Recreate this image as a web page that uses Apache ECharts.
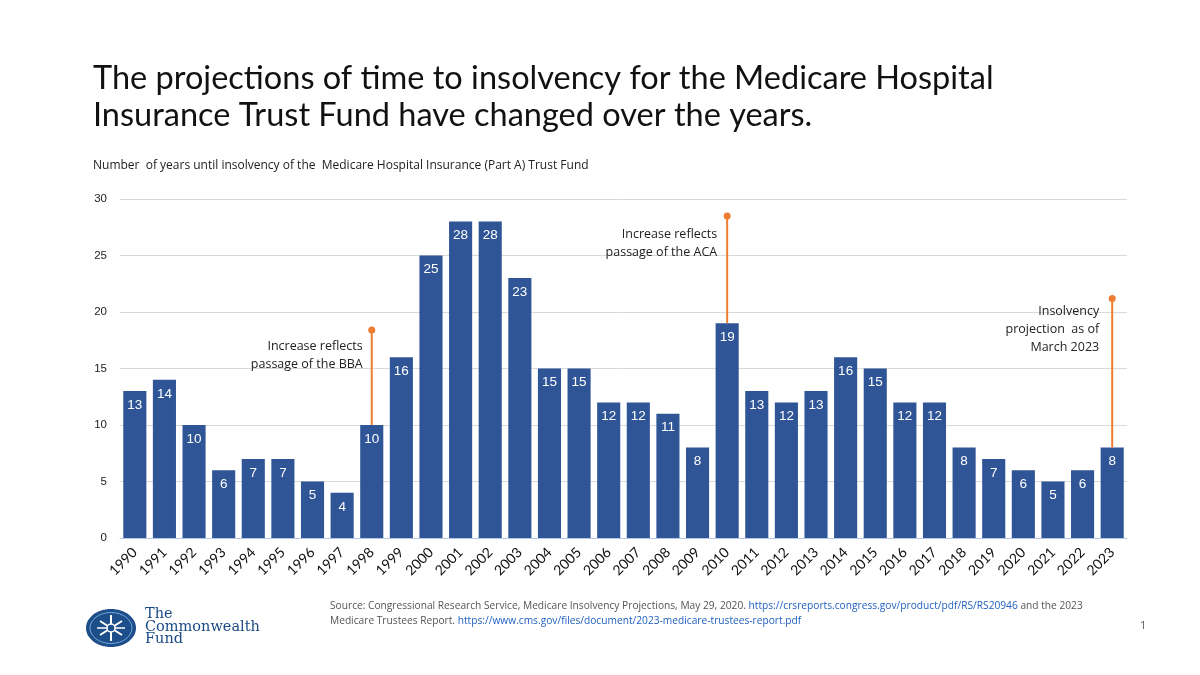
<!DOCTYPE html>
<html>
<head>
<meta charset="utf-8">
<script src="https://cdn.jsdelivr.net/npm/echarts@6/dist/echarts.min.js"></script>
<style>html,body{margin:0;padding:0;background:#fff;}#c{width:1200px;height:675px;}</style>
</head>
<body>
<div id="c"></div>
<script>
const years = ['1990','1991','1992','1993','1994','1995','1996','1997','1998','1999','2000','2001','2002','2003','2004','2005','2006','2007','2008','2009','2010','2011','2012','2013','2014','2015','2016','2017','2018','2019','2020','2021','2022','2023'];
const yearsToInsolvency = [13,14,10,6,7,7,5,4,10,16,25,28,28,23,15,15,12,12,11,8,19,13,12,13,16,15,12,12,8,7,6,5,6,8];
const yTicks = [0,5,10,15,20,25,30];
const annotationYears = ['1998','2010','2023'];
const annotationTops = [18.4, 28.5, 21.2];
const annotationTexts = ['Increase reflects\npassage of the BBA','Increase reflects\npassage of the ACA','Insolvency\nprojection  as of\nMarch 2023'];

const annData = annotationYears.map((y, i) => {
  const idx = years.indexOf(y);
  return [idx, yearsToInsolvency[idx], annotationTops[i], i];
});

const chart = echarts.init(document.getElementById('c'), null, {renderer: 'canvas'});
const textFont = '"Open Sans", "Liberation Sans", sans-serif';
chart.setOption({
  backgroundColor: '#ffffff',
  animation: false,
  title: [{
    text: 'The projections of time to insolvency for the Medicare Hospital\nInsurance Trust Fund have changed over the years.',
    left: 88, top: 55,
    textStyle: {fontFamily: 'Lato, sans-serif', fontSize: 32.5, fontWeight: 'normal', color: '#111', lineHeight: 37}
  }, {
    text: 'Number  of years until insolvency of the  Medicare Hospital Insurance (Part A) Trust Fund',
    left: 88, top: 155,
    textStyle: {fontFamily: textFont, fontSize: 12, fontWeight: 'normal', color: '#222'}
  }],
  grid: {left: 120, right: 73, top: 199, bottom: 137, containLabel: false},
  xAxis: {
    type: 'category', data: years,
    axisLine: {lineStyle: {color: '#b4c7e7', width: 1}},
    axisTick: {show: false},
    axisLabel: {rotate: 45, color: '#111', fontSize: 14, fontFamily: 'Lato, sans-serif', margin: 12, interval: 0}
  },
  yAxis: {
    type: 'value', min: yTicks[0], max: yTicks[yTicks.length - 1], interval: 5,
    axisLine: {show: false}, axisTick: {show: false},
    axisLabel: {color: '#222', fontSize: 11.5, fontFamily: 'Liberation Sans, Arial, sans-serif', margin: 13},
    splitLine: {lineStyle: {color: '#d9d9d9', width: 1}}
  },
  series: [{
    type: 'bar', data: yearsToInsolvency,
    barCategoryGap: '22%',
    itemStyle: {color: '#2f5597'},
    label: {show: true, position: 'insideTop', distance: 7, color: '#fff', fontSize: 13.5, fontFamily: 'Liberation Sans, Arial, sans-serif'},
    z: 2
  }, {
    type: 'custom', data: annData, z: 5, silent: true,
    renderItem: function (params, api) {
      const base = api.coord([api.value(0), api.value(1)]);
      const top = api.coord([api.value(0), api.value(2)]);
      const i = api.value(3);
      const offsets = [7, 9, 4];
      const gaps = [9, 10, 13];
      return {
        type: 'group',
        children: [{
          type: 'line',
          shape: {x1: base[0], y1: base[1], x2: top[0], y2: top[1]},
          style: {stroke: '#ed7d31', lineWidth: 2}
        }, {
          type: 'circle',
          shape: {cx: top[0], cy: top[1], r: 3.5},
          style: {fill: '#ed7d31'}
        }, {
          type: 'text',
          style: {
            x: top[0] - gaps[i], y: top[1] + offsets[i],
            text: annotationTexts[i], align: 'right', verticalAlign: 'top',
            fontSize: 12.5, lineHeight: 18, fontFamily: textFont, fill: '#222'
          }
        }]
      };
    }
  }],
  graphic: [
    {
      type: 'text', left: 330, top: 601,
      style: {
        rich: {
          t: {fontSize: 10.2, fontFamily: textFont, fill: '#555', lineHeight: 15},
          l: {fontSize: 10.2, fontFamily: textFont, fill: '#1f5fbf', lineHeight: 15}
        },
        text: '{t|Source: Congressional Research Service, Medicare Insolvency Projections, May 29, 2020. }{l|https://crsreports.congress.gov/product/pdf/RS/RS20946}{t| and the 2023}\n{t|Medicare Trustees Report. }{l|https://www.cms.gov/files/document/2023-medicare-trustees-report.pdf}'
      }
    },
    {type: 'text', left: 1140, top: 620, style: {text: '1', fontSize: 11, fontFamily: textFont, fill: '#555'}},
    {
      type: 'group', left: 86, top: 607,
      children: [
        {type: 'ellipse', shape: {cx: 25, cy: 21, rx: 25, ry: 19}, style: {fill: '#1d4e89'}},
        {type: 'ellipse', shape: {cx: 25, cy: 21, rx: 21, ry: 15.5}, style: {fill: 'none', stroke: '#6fa8dc', lineWidth: 1}},
        {type: 'line', shape: {x1: 25, y1: 8, x2: 25, y2: 34}, style: {stroke: '#fff', lineWidth: 2}},
        {type: 'line', shape: {x1: 14, y1: 14, x2: 36, y2: 28}, style: {stroke: '#fff', lineWidth: 2}},
        {type: 'line', shape: {x1: 14, y1: 28, x2: 36, y2: 14}, style: {stroke: '#fff', lineWidth: 2}},
        {type: 'line', shape: {x1: 11, y1: 21, x2: 39, y2: 21}, style: {stroke: '#fff', lineWidth: 1.5}},
        {type: 'circle', shape: {cx: 25, cy: 21, r: 4}, style: {fill: '#1d4e89', stroke: '#fff', lineWidth: 1.5}},
        {type: 'text', left: 59, top: 0, style: {text: 'The\nCommonwealth\nFund', fontSize: 14.5, lineHeight: 12.5, fontFamily: '"DejaVu Serif", serif', fill: '#1a4a85'}}
      ]
    }
  ]
});
</script>
</body>
</html>
